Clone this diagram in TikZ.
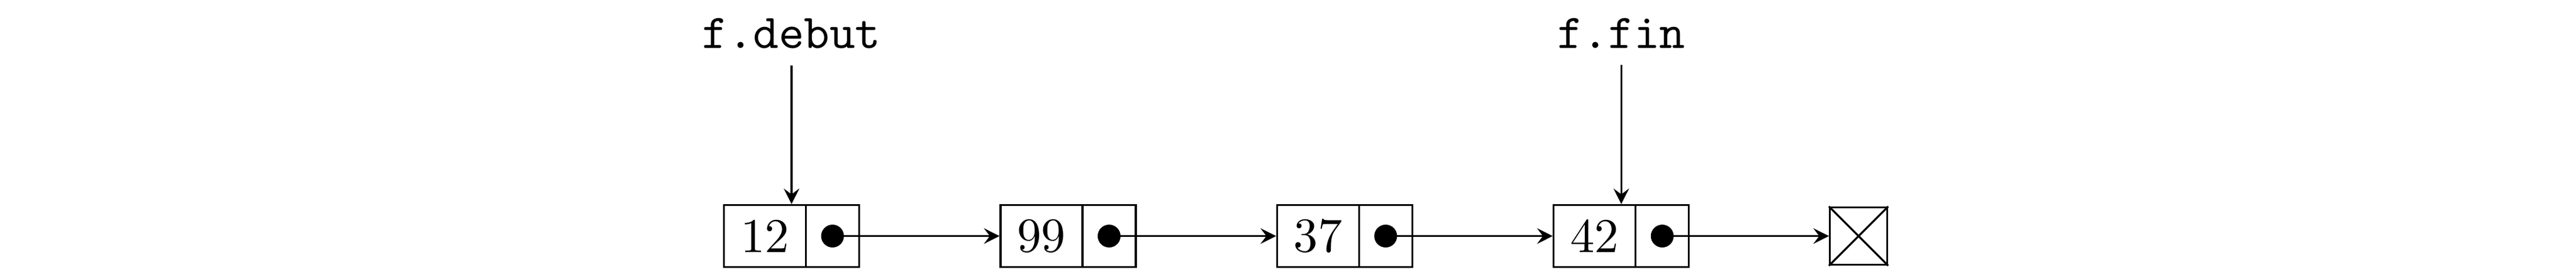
\documentclass[tikz,border=0pt]{standalone}
\usetikzlibrary{arrows.meta,calc}
\begin{document}
\begin{tikzpicture}[
  cellbox/.style={draw, line width=0.4pt, inner sep=0pt, minimum height=0.4488cm},
  valcell/.style={cellbox, minimum width=0.5927cm},
  ptrcell/.style={cellbox, minimum width=0.3853cm},
  ptrdot/.style={circle, fill, inner sep=0pt, minimum size=4.7pt},
  nilbox/.style={draw, line width=0.4pt, inner sep=0pt, minimum size=0.4149cm},
  arr/.style={-{Stealth[length=3.2pt,width=3.2pt,inset=1.2pt]}},
  lbl/.style={font=\ttfamily, anchor=base}
]
\useasboundingbox (0,0) rectangle (18.628,1.9645);
\coordinate (ly) at (0,1.6173);
\foreach \v [count=\i] in {12,99,37,42} {
  \node[valcell] (v\i) at ({5.5313+2*(\i-1)},0.2561) {\v};
  \node[ptrcell, anchor=west] (p\i) at ([xshift=-0.4pt]v\i.east) {};
  \node[ptrdot] (d\i) at (p\i.center) {};
  \coordinate (t\i) at ($(v\i.north west)!0.5!(p\i.north east)$);
}
\node[nilbox] (nil) at (13.440,0.2561) {};
\draw (nil.north west) -- (nil.south east) (nil.south west) -- (nil.north east);
\foreach \i/\j in {1/2,2/3,3/4} \draw[arr] (d\i.center) -- (v\j.west);
\draw[arr] (d4.center) -- (nil.west);
\node[lbl] (ld) at (t1 |- ly) {f.debut};
\node[lbl] (lf) at (t4 |- ly) {f.fin};
\draw[arr] (ld.south) -- (t1);
\draw[arr] (lf.south) -- (t4);
\end{tikzpicture}
\end{document}
